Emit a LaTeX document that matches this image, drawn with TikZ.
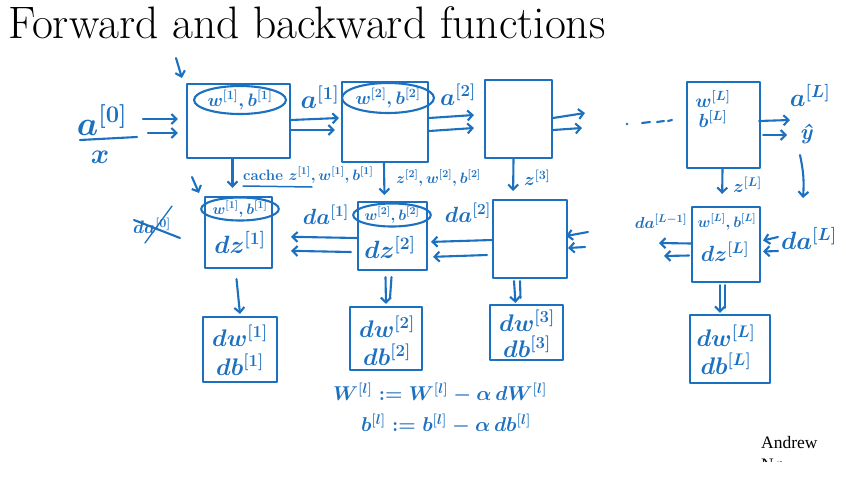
\RequirePackage{fix-cm}
\documentclass[tikz,border=0pt]{standalone}
\usepackage{fontspec}
\newfontfamily\andrewfont{Liberation Serif}
\usetikzlibrary{arrows.meta,calc,shapes.geometric}
\definecolor{hb}{RGB}{28,112,192}
\newcommand\hsz[1]{\fontsize{#1}{#1}\selectfont\boldmath}
\begin{document}
\begin{tikzpicture}[x=1pt,y=-1pt,
  hand/.style={draw=hb,line width=2.1pt,line cap=round,line join=round},
  blk/.style={hand,rectangle,inner sep=0pt},
  oval/.style={hand,ellipse,inner sep=0pt},
  arr/.style={hand,-{Straight Barb[length=5pt,width=10pt]}},
  lb/.style={text=hb,inner sep=0pt,font=\hsz{#1}},
]
\useasboundingbox (0,0) rectangle (846,480);

% title
\node[anchor=base west,inner sep=0pt,font=\fontsize{45.5}{50}\selectfont] (title) at (8,38) {Forward and backward functions};

% ---------- forward row ----------
\node[blk,minimum width=103pt,minimum height=74pt] (f1) at (238.5,121) {};
\node[oval,minimum width=84pt,minimum height=28pt,lb=18] (e1) at (240,100) {$w^{[1]},b^{[1]}$};
\node[blk,minimum width=86pt,minimum height=80pt] (f2) at (385,122) {};
\node[oval,minimum width=80pt,minimum height=30pt,lb=18] (e2) at (388,98) {$w^{[2]},b^{[2]}$};
\node[blk,minimum width=67pt,minimum height=78pt] (f3) at (518.5,119) {};
\node[blk,minimum width=73pt,minimum height=86pt] (fL) at (723.5,125) {};
\node[lb=19] (wL) at (713,99) {$w^{[L]}$};
\node[lb=19] (bLt) at (713,119) {$b^{[L]}$};

% input
\node[lb=34] (a0) at (102,120) {$a^{[0]}$};
\coordinate (frl) at (80,140);
\coordinate (frr) at (137,137);
\draw[hand] (frl) -- (frr);
\node[lb=28] (x) at (100,157) {$x$};
\coordinate (in1) at (143,119);
\coordinate (in2) at (148,133);
\draw[arr] (in1) -- ($(f1.west)+(-8,-2)$);
\draw[arr] (in2) -- ($(f1.west)+(-8,12)$);
\coordinate (top1) at (176,58);
\draw[arr] (top1) -- ($(f1.north west)+(-4,-5)$);

% f1 -> f2
\draw[arr] ($(f1.east)+(0,-1)$) -- ($(f2.west)+(-2,-4)$);
\draw[arr] ($(f1.east)+(0,9)$) -- ($(f2.west)+(-6,8)$);
\node[lb=26] (a1) at (320,97) {$a^{[1]}$};
% f2 -> f3
\draw[arr] ($(f2.east)+(0,-4)$) -- ($(f3.west)+(-10,-4)$);
\draw[arr] ($(f2.east)+(0,9)$) -- ($(f3.west)+(-10,9)$);
\node[lb=24] (a2) at (458,95) {$a^{[2]}$};
% f3 -> out
\coordinate (o3a) at (585,113);
\coordinate (o3b) at (582,128);
\draw[arr] ($(f3.east)+(0,-1)$) -- (o3a);
\draw[arr] ($(f3.east)+(0,11)$) -- (o3b);
% dots
\fill[hb] (627,124) circle (1.4pt);
\draw[hand] (642,123) -- (650,122);
\draw[hand] (657,122) -- (664,121);
\draw[hand] (668,121) -- (672,120);
% fL -> out
\coordinate (oLa) at (790,120);
\coordinate (oLb) at (787,135);
\draw[arr] ($(fL.east)+(-2,-4)$) -- (oLa);
\draw[arr] ($(fL.east)+(2,10)$) -- (oLb);
\node[lb=25] (aL) at (810,95) {$a^{[L]}$};
\node[lb=22] (yhat) at (806,134) {\bfseries\itshape ŷ};
\coordinate (cs) at (800,155);
\coordinate (ce) at (803,198);
\draw[arr] (cs) to[bend left=8] (ce);

% ---------- backward row ----------
\node[blk,minimum width=67pt,minimum height=71pt] (b1) at (238.5,232.5) {};
\node[oval,minimum width=64pt,minimum height=23pt,lb=15] (be1) at (240,209) {$w^{[1]},b^{[1]}$};
\node[lb=25] (dz1) at (240,242) {$dz^{[1]}$};
\node[blk,minimum width=69pt,minimum height=68pt] (b2) at (392.5,236) {};
\node[oval,minimum width=66pt,minimum height=23pt,lb=15] (be2) at (392,215) {$w^{[2]},b^{[2]}$};
\node[lb=25] (dz2) at (390,247) {$dz^{[2]}$};
\node[blk,minimum width=74pt,minimum height=78pt] (b3) at (530,239) {};
\node[blk,minimum width=68pt,minimum height=75pt] (bL) at (726,244.5) {};
\node[lb=15] (wbL) at (727,222) {$w^{[L]},b^{[L]}$};
\node[lb=22] (dzL) at (725,252) {$dz^{[L]}$};

% cache arrows
\draw[arr,shorten >=8pt] ($(f1.south)+(-6,0)$) -- ($(b1.north)+(-6,0)$);
\node[lb=15,anchor=west] (cache1) at (243,175) {\bfseries cache $z^{[1]},w^{[1]},b^{[1]}$};
\coordinate (ul1) at (243,186);
\coordinate (ul2) at (312,187);
\draw[hand,line width=1.5pt] (ul1) -- (ul2);
\coordinate (cb1) at (192,177);
\draw[arr] (cb1) -- ($(b1.north west)+(-5,-3)$);
\draw[arr,shorten >=6pt] ($(f2.south)+(-1,0)$) -- ($(b2.north)+(-8,0)$);
\node[lb=15,anchor=west] (cache2) at (396,178) {$z^{[2]},w^{[2]},b^{[2]}$};
\draw[arr,shorten >=8pt] ($(f3.south)+(-5,0)$) -- ($(b3.north)+(-17,0)$);
\node[lb=18,anchor=west] (cache3) at (524,178) {$z^{[3]}$};
\draw[arr,shorten >=12pt] ($(fL.south)+(-1,0)$) -- ($(bL.north)+(-4,0)$);
\node[lb=18,anchor=west] (cacheL) at (733,185) {$z^{[L]}$};

% crossed da0
\node[lb=18] (da0) at (152,226) {$da^{[0]}$};
\coordinate (x1) at (134,220);
\coordinate (x2) at (180,238);
\draw[hand] (x1) -- (x2);
\coordinate (x3) at (145,243);
\coordinate (x4) at (172,206);
\draw[hand,line width=1.3pt] (x3) -- (x4);

% b2 -> b1
\draw[arr,shorten >=18pt] ($(b2.west)+(0,2)$) -- ($(b1.east)+(0,4)$);
\draw[arr,shorten >=18pt] ($(b2.west)+(-6,16)$) -- ($(b1.east)+(0,18)$);
\node[lb=22] (da1) at (326,215) {$da^{[1]}$};
% b3 -> b2
\draw[arr,shorten >=3pt] ($(b3.west)+(0,1)$) -- ($(b2.east)+(0,6)$);
\draw[arr,shorten >=5pt] ($(b3.west)+(-5,16)$) -- ($(b2.east)+(0,21)$);
\node[lb=22] (da2) at (468,213) {$da^{[2]}$};
% into b3
\coordinate (i3a) at (588,232);
\coordinate (i3b) at (585,247);
\draw[arr] (i3a) -- ($(b3.east)+(-2,-3)$);
\draw[arr] (i3b) -- ($(b3.east)+(0,9)$);
% bL out
\coordinate (oba) at (659,243);
\coordinate (obb) at (664,256);
\draw[arr] ($(bL.west)+(0,-1)$) -- (oba);
\draw[arr] ($(bL.west)+(-2,11)$) -- (obb);
\node[lb=16] (daLm) at (661,221) {$da^{[L-1]}$};
% into bL
\coordinate (iba) at (778,237);
\coordinate (ibb) at (778,251);
\draw[arr] (iba) -- ($(bL.east)+(2,-4)$);
\draw[arr] (ibb) -- ($(bL.east)+(2,7)$);
\node[lb=25] (daL) at (809,238) {$da^{[L]}$};

% ---------- dW boxes ----------
\node[blk,minimum width=74pt,minimum height=65pt] (d1) at (240,349.5) {};
\node[lb=24] (dw1) at (240,336) {$dw^{[1]}$};
\node[lb=24] (db1) at (240,365) {$db^{[1]}$};
\node[blk,minimum width=72pt,minimum height=63pt] (d2) at (386,338.5) {};
\node[lb=24] (dw2) at (387,327) {$dw^{[2]}$};
\node[lb=24] (db2) at (387,355) {$db^{[2]}$};
\node[blk,minimum width=73pt,minimum height=55pt] (d3) at (526.5,332.5) {};
\node[lb=24] (dw3) at (527,321) {$dw^{[3]}$};
\node[lb=24] (db3) at (527,347) {$db^{[3]}$};
\node[blk,minimum width=80pt,minimum height=68pt] (dL) at (730,349) {};
\node[lb=24] (dwL) at (726,336) {$dw^{[L]}$};
\node[lb=24] (dbL) at (726,364) {$db^{[L]}$};

\draw[arr] ($(b1.south)+(-2,10)$) -- ($(d1.north)+(0,-2)$);
\draw[arr] ($(b2.south)+(-7,6)$) -- ($(d2.north)+(0,-2)$);
\draw[hand] ($(b2.south)+(-1,6)$) -- ($(d2.north)+(4,-8)$);
\draw[arr] ($(b3.south)+(-16,2)$) -- ($(d3.north)+(-11,-1)$);
\draw[hand] ($(b3.south)+(-10,2)$) -- ($(d3.north)+(-6,-6)$);
\draw[arr] ($(bL.south)+(-6,2)$) -- ($(dL.north)+(-10,-1)$);
\draw[hand] ($(bL.south)+(-1,2)$) -- ($(dL.north)+(-5,-6)$);

% update equations
\node[lb=20] (upw) at (440,393) {$W^{[l]} := W^{[l]} - \alpha\, dW^{[l]}$};
\node[lb=20] (upb) at (446,424) {$b^{[l]} := b^{[l]} - \alpha\, db^{[l]}$};

% footer
\node[anchor=base west,inner sep=0pt,font=\andrewfont\fontsize{17.5}{20}\selectfont] (andrew) at (761,448) {Andrew};
\begin{scope}
\clip (740,454) rectangle (846,461);
\node[anchor=base west,inner sep=0pt,font=\andrewfont\fontsize{17.5}{20}\selectfont] (ng) at (761,470) {Ng};
\end{scope}
\end{tikzpicture}
\end{document}
